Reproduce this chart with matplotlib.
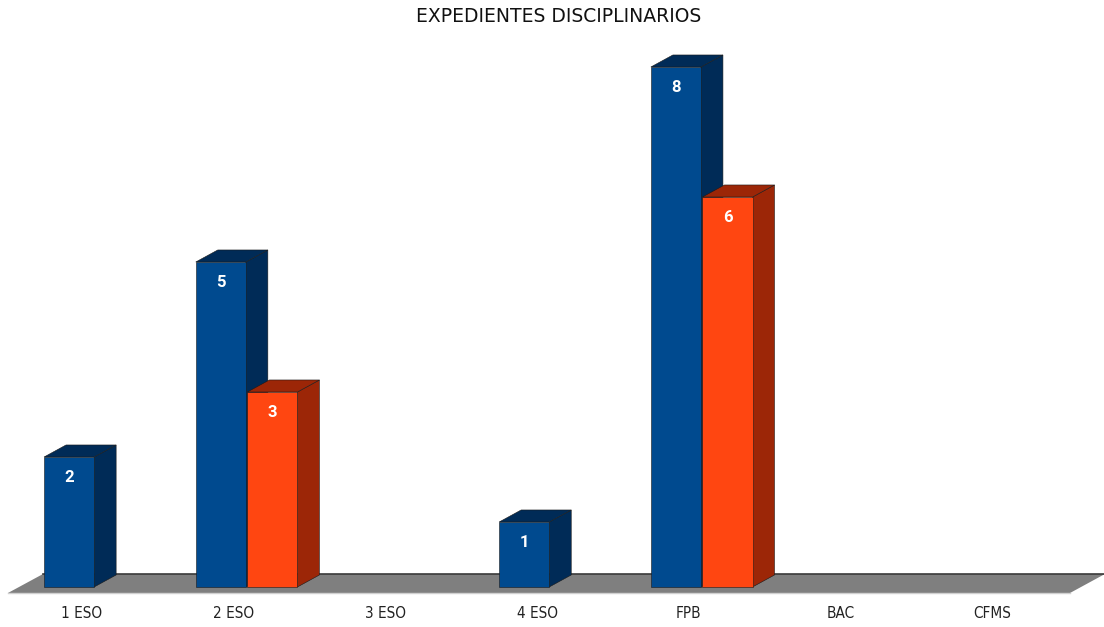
import matplotlib.pyplot as plt
from matplotlib.patches import Polygon

categories = ["1 ESO", "2 ESO", "3 ESO", "4 ESO", "FPB", "BAC", "CFMS"]
serie_azul = [2, 5, 0, 1, 8, 0, 0]
serie_naranja = [0, 3, 0, 0, 6, 0, 0]

azul = "#004a8f"
azul_lado = "#002b57"
naranja = "#ff4611"
naranja_lado = "#9c2607"

plt.rcParams["font.family"] = ["Roboto", "DejaVu Sans"]

fig = plt.figure(figsize=(11.04, 6.27), dpi=100)
ax = fig.add_axes([0, 0, 1, 1])
# 151.7 px per category, 65 px per unit, zero at y=587 px
ax.set_xlim(-82 / 151.7, (1104 - 82) / 151.7)
ax.set_ylim(-(627 - 587) / 65, 587 / 65)
ax.axis("off")

w = 0.33   # bar width
dx = 0.145  # depth offsets (3D look)
dy = 0.185

# floor
n = len(categories)
floor = Polygon([(-0.488, -0.092), (6.513, -0.092), (6.513 + 0.23, 0.2), (-0.257, 0.2)],
                closed=True, facecolor="#7f7f7f", edgecolor="none", zorder=1)
ax.add_patch(floor)
ax.plot([-0.257, 6.75], [0.2, 0.2], color="#3a3a3a", lw=1.2, zorder=1.5)
ax.plot([-0.488, 6.513], [-0.092, -0.092], color="#d0d0d0", lw=1.0, zorder=1.5)


def bar3d(x0, vals, front, side, z):
    xs = [i + x0 for i, v in enumerate(vals) if v > 0]
    hs = [v for v in vals if v > 0]
    ax.bar(xs, hs, width=w, align="edge", color=front, edgecolor="#1a1a1a",
           linewidth=0.4, zorder=z + 0.5)
    for x, v in zip(xs, hs):
        x1 = x + w
        ax.add_patch(Polygon([(x1, 0), (x1, v), (x1 + dx, v + dy), (x1 + dx, dy)],
                             closed=True, facecolor=side, edgecolor="#1a1a1a",
                             linewidth=0.4, zorder=z))
        ax.add_patch(Polygon([(x, v), (x1, v), (x1 + dx, v + dy), (x + dx, v + dy)],
                             closed=True, facecolor=side, edgecolor="#1a1a1a",
                             linewidth=0.4, zorder=z))
        ax.text(x + w / 2, v - 0.32, str(v), color="white", fontsize=12,
                fontweight="bold", ha="center", va="center", zorder=10)


bar3d(-0.25, serie_azul, azul, azul_lado, 2)
bar3d(0.09, serie_naranja, naranja, naranja_lado, 4)

for i, c in enumerate(categories):
    ax.text(i, -(614 - 587) / 65, c, fontsize=11, ha="center", va="center",
            color="#222222", family=["DejaVu Sans"], fontstretch="condensed")

fig.text(559 / 1104, 1 - 17 / 627, "EXPEDIENTES DISCIPLINARIOS", fontsize=13.5,
         ha="center", va="center", color="#111111", family=["DejaVu Sans"])

fig.savefig("out.png", dpi=100)
